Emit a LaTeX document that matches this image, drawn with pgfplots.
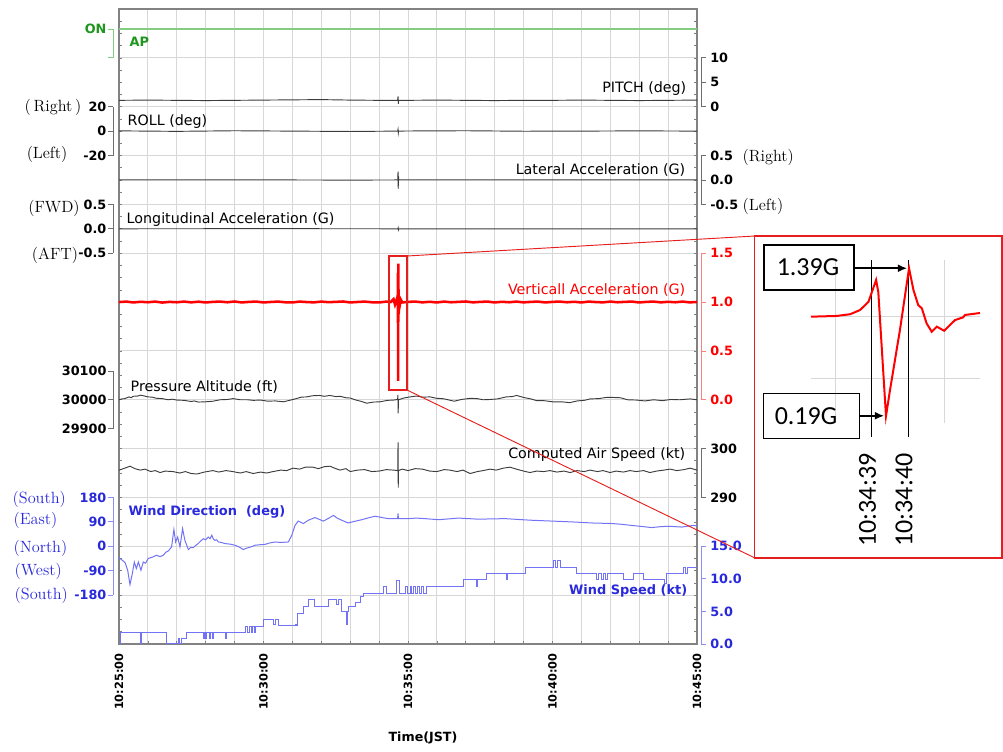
\documentclass[border=0pt]{standalone}
\usepackage{pgfplots}
\pgfplotsset{compat=1.18}
\usepackage{fontspec}
\usetikzlibrary{arrows.meta}
\newfontfamily\dv{DejaVu Sans}
\newfontfamily\carl{Carlito}
\newcommand\lab{\dv\fontsize{10.7}{12}\selectfont}
\newcommand\blab{\dv\bfseries\fontsize{9.7}{11}\selectfont}
\newcommand\tlab{\dv\bfseries\fontsize{9.6}{11}\selectfont}
\newcommand\xtl{\dv\bfseries\fontsize{8.5}{10}\selectfont}
\newcommand\ser{\rmfamily\fontsize{12.2}{13}\selectfont}
\newcommand\clb{\carl\fontsize{19.5}{21}\selectfont}
\definecolor{apg}{RGB}{30,150,30}
\definecolor{apline}{RGB}{130,205,130}
\definecolor{vred}{RGB}{255,0,0}
\definecolor{vbr}{RGB}{255,125,125}
\definecolor{wb}{RGB}{40,40,220}
\definecolor{wline}{RGB}{115,115,245}
\definecolor{wbr}{RGB}{140,140,250}
\definecolor{dk}{RGB}{60,60,60}
\definecolor{gridc}{RGB}{215,215,215}
\definecolor{framec}{RGB}{130,130,130}
\definecolor{brc}{RGB}{110,110,110}
\definecolor{boxred}{RGB}{230,30,30}
\pgfplotsset{
 chan/.style={scale only axis, width=433.5pt, anchor=south west, xmin=0, xmax=20,
   axis x line=none, clip=false, tick align=outside, major tick length=3.75pt, no markers,
   scaled y ticks=false,
   yticklabel style={font=\tlab}, ytick style={line width=0.6pt}, y axis line style={line width=0.6pt}},
 lchan/.style={chan, axis y line*=left,
   y axis line style={xshift=-4.5pt}, ytick style={xshift=-4.5pt}, yticklabel style={xshift=-4.5pt, inner sep=1pt}},
 rchan/.style={chan, axis y line*=right,
   y axis line style={xshift=3pt}, ytick style={xshift=3pt}, yticklabel style={xshift=5pt, inner sep=1pt}},
 gbr/.style={y axis line style={draw=brc}, ytick style={draw=brc}},
}
\begin{document}
\begin{tikzpicture}[x=0.75pt,y=0.75pt]
\path[use as bounding box] (0,0) rectangle (1003,751);
% main frame
\begin{axis}[at={(89.25pt,80.25pt)}, anchor=south west, scale only axis,
 width=433.5pt, height=476.25pt, xmin=0, xmax=20, ymin=0, ymax=13,
 xtick={0,...,20},
 xticklabels={10:25:00,,,,,10:30:00,,,,,10:35:00,,,,,10:40:00,,,,,10:45:00},
 ytick={0,...,13}, yticklabels={,,,,,,,,,,,,,,}, minor y tick num=3,
 grid=major, major grid style={draw=gridc, line width=0.7pt},
 tick align=inside, xtick pos=left, ytick pos=both,
 major tick length=2.5pt, minor tick length=2pt,
 tick style={draw=framec, line width=0.5pt},
 axis line style={draw=framec, line width=1.1pt},
 xticklabel style={rotate=90, anchor=east, font=\xtl, inner sep=0pt},
 xticklabel shift=7pt]
\end{axis}
% AP
\begin{axis}[lchan, at={(89.25pt,519.87pt)}, height=21.63pt, ymin=0, ymax=1,
 ytick={0,1}, yticklabels={,ON}, yticklabel style={text=apg},
 y axis line style={draw=apline}, ytick style={draw=apline}]
\addplot[apline, line width=0.8pt] coordinates {(0,1)(20,1)};
\end{axis}
% PITCH
\begin{axis}[rchan, gbr, at={(89.25pt,483.235pt)}, height=36.635pt, ymin=0, ymax=10,
 ytick={0,5,10}, yticklabels={0,5,10}]
\addplot[dk, line width=0.7pt] coordinates {(0,1.3)(1,1.35)(2,1.3)(3,1.25)(4,1.3)(5,1.35)(6,1.4)(7,1.45)(8,1.35)(9,1.3)(9.64,1.3)(9.655,2.1)(9.665,0.6)(9.675,1.3)(10,1.3)(11,1.35)(12,1.3)(13,1.25)(14,1.3)(15,1.3)(16,1.35)(17,1.3)(18,1.25)(19,1.3)(20,1.35)};
\end{axis}
% ROLL
\begin{axis}[lchan, gbr, at={(89.25pt,446.6pt)}, height=36.635pt, ymin=-20, ymax=20,
 ytick={-20,0,20}, yticklabels={-20,0,20}]
\addplot[dk, line width=0.7pt] coordinates {(0,0.2)(2,-0.2)(4,0.3)(6,0)(8,-0.3)(9.64,0)(9.655,1.5)(9.665,-1.5)(9.675,0)(10,0.1)(12,0.3)(14,-0.1)(16,0)(18,0.2)(20,0)};
\end{axis}
% Lateral
\begin{axis}[rchan, gbr, at={(89.25pt,409.965pt)}, height=36.635pt, ymin=-0.5, ymax=0.5,
 ytick={-0.5,0,0.5}, yticklabels={-0.5,0.0,0.5}]
\addplot[dk, line width=0.7pt] coordinates {(0,0)(4,0.003)(8,-0.003)(9.645,0)(9.655,0.17)(9.662,-0.18)(9.67,0.08)(9.68,0)(14,0.003)(20,0)};
\end{axis}
% Longitudinal
\begin{axis}[lchan, gbr, at={(89.25pt,373.33pt)}, height=36.635pt, ymin=-0.5, ymax=0.5,
 ytick={-0.5,0,0.5}, yticklabels={-0.5,0.0,0.5}]
\addplot[dk, line width=0.7pt] coordinates {(0,0)(5,0.003)(9.65,0)(9.66,0.02)(9.67,-0.02)(9.68,0)(15,-0.003)(20,0)};
\end{axis}
% Vertical acceleration
\begin{axis}[rchan, at={(89.25pt,263.425pt)}, height=109.905pt, ymin=0, ymax=1.5,
 ytick={0,0.5,1,1.5}, yticklabels={0.0,0.5,1.0,1.5}, yticklabel style={text=vred},
 y axis line style={draw=vbr}, ytick style={draw=vbr}]
\addplot[vred, line width=1.9pt] coordinates {
(0,1.000)(0.25,1.005)(0.5,0.996)(0.75,1.003)(1,0.998)(1.25,1.005)(1.5,0.995)(1.75,1.002)
(2,0.998)(2.25,1.005)(2.5,0.997)(2.75,1.004)(3,0.996)(3.25,1.002)(3.5,1.005)(3.75,0.998)
(4,1.006)(4.25,0.996)(4.5,1.002)(4.75,1.005)(5,0.996)(5.25,1.001)(5.5,1.005)(5.75,0.998)
(6,0.996)(6.25,1.005)(6.5,1.000)(6.75,0.997)(7,1.005)(7.25,0.999)(7.5,1.002)(7.75,1.006)
(8,0.996)(8.25,1.001)(8.5,1.005)(8.75,0.998)(9,0.996)(9.25,1.005)(9.4,1.000)(9.5,1.030)
(9.55,0.975)(9.6,1.020)(9.6223,1.000)(9.634,1.006)(9.6402,1.020)(9.6447,1.054)(9.6485,1.120)
(9.652,1.300)(9.653,1.200)(9.6565,0.194)(9.6583,0.405)(9.6628,0.890)(9.667,1.393)(9.669,1.217)
(9.6712,1.095)(9.6728,1.068)(9.675,0.946)(9.6773,0.878)(9.6797,0.919)(9.683,0.886)(9.6857,0.933)
(9.688,0.973)(9.6917,0.995)(9.6993,1.030)(9.72,0.975)(9.75,1.025)(9.8,0.996)(10,1.002)
(10.25,1.005)(10.5,0.997)(10.75,1.003)(11,0.996)(11.25,1.005)(11.5,0.998)(11.75,1.002)
(12,1.006)(12.25,0.997)(12.5,1.002)(12.75,1.005)(13,0.996)(13.25,1.003)(13.5,0.998)(13.75,1.005)
(14,0.997)(14.25,1.002)(14.5,1.005)(14.75,0.996)(15,1.002)(15.25,1.005)(15.5,0.998)(15.75,1.003)
(16,0.996)(16.25,1.005)(16.5,1.000)(16.75,0.997)(17,1.005)(17.25,0.998)(17.5,1.002)(17.75,1.005)
(18,0.996)(18.25,1.002)(18.5,1.005)(18.75,0.997)(19,1.003)(19.25,0.998)(19.5,1.005)(19.75,0.997)(20,1.001)};
\end{axis}
% Pressure altitude
\begin{axis}[lchan, gbr, at={(89.25pt,241.825pt)}, height=43.2pt, ymin=29900, ymax=30100,
 ytick={29900,30000,30100}, yticklabels={29900,30000,30100}]
\addplot[dk, line width=0.7pt] coordinates {
(0,30000)(0.1,30003)(0.2,30004)(0.35,30010)(0.42,30007)(0.49,30012)(0.65,30013)(0.75,30016)(0.84,30014)
(1.0,30010)(1.15,30009)(1.3,30005)(1.5,30004)(1.7,30000)(1.85,30002)(2.0,29999)(2.25,29998)
(2.5,29994)(2.6,29996)(2.75,29992)(3.0,29993)(3.25,29995)(3.5,30000)(3.75,30001)(3.95,30004)
(4.2,30000)(4.45,30000)(4.65,29998)(4.9,29999)(5.15,29995)(5.4,29996)(5.69,29993)(5.9,29998)
(6.1,30003)(6.3,30009)(6.5,30010)(6.7,30014)(6.95,30015)(7.1,30012)(7.3,30015)(7.5,30011)
(7.65,30012)(7.85,30007)(8.0,30006)(8.2,29999)(8.4,29994)(8.57,29988)(8.8,29992)(9.03,29993)
(9.3,29998)(9.5,29999)(9.64,30001)(9.652,30017)(9.66,29953)(9.67,30000)(9.85,30006)(10.07,30010)
(10.3,30013)(10.5,30009)(10.76,30010)(11.0,30005)(11.2,30004)(11.34,30001)(11.6,29995)(11.85,30001)
(12.15,30005)(12.4,30004)(12.6,30000)(12.84,30001)(13.1,30003)(13.4,30010)(13.6,30011)(13.76,30015)
(14.0,30008)(14.25,30003)(14.45,29997)(14.7,29997)(15.0,29993)(15.3,29993)(15.6,29990)(15.85,29996)
(16.1,29998)(16.3,30003)(16.6,30004)(16.85,30008)(17.1,30008)(17.35,30007)(17.6,30000)(17.9,29999)
(18.2,29996)(18.5,30000)(18.8,29997)(19.1,30001)(19.4,30000)(19.76,30003)(20,30000)};
\end{axis}
% CAS
\begin{axis}[rchan, gbr, at={(89.25pt,190.155pt)}, height=36.635pt, ymin=290, ymax=300,
 ytick={290,300}, yticklabels={290,300}]
\addplot[dk, line width=0.7pt] coordinates {
(0,295.6)(0.2,296.0)(0.38,296.4)(0.55,295.9)(0.73,295.6)(0.9,295.8)(1.1,295.3)(1.25,295.5)(1.42,295.1)
(1.6,295.4)(1.87,295.3)(2.1,295.0)(2.3,295.3)(2.5,294.9)(2.7,294.8)(2.95,295.2)(3.25,295.5)
(3.45,295.2)(3.7,295.5)(3.94,295.3)(4.2,295.0)(4.4,295.3)(4.64,294.9)(4.9,295.2)(5.1,295.0)
(5.33,295.3)(5.6,295.6)(5.8,295.5)(6.02,296.0)(6.25,295.8)(6.45,296.2)(6.71,296.2)(6.9,295.9)
(7.1,296.3)(7.3,296.4)(7.5,295.9)(7.65,295.6)(7.85,295.9)(8.0,295.3)(8.25,295.6)(8.5,295.7)
(8.75,295.3)(9.0,295.4)(9.25,295.7)(9.5,295.6)(9.645,295.5)(9.655,301.3)(9.662,292.0)(9.67,295.5)
(9.8,295.8)(10.0,295.5)(10.25,295.9)(10.5,295.8)(10.75,295.4)(11.0,295.3)(11.25,295.7)(11.45,295.6)
(11.7,295.3)(11.9,295.6)(12.15,294.9)(12.4,295.3)(12.6,295.5)(12.84,295.8)(13.05,295.6)(13.3,296.0)
(13.53,296.2)(13.75,295.8)(14.0,295.4)(14.22,295.1)(14.45,295.4)(14.7,295.3)(14.91,295.5)(15.15,295.2)
(15.4,295.4)(15.61,295.1)(15.85,295.5)(16.1,295.3)(16.3,295.6)(16.55,295.3)(16.75,295.5)(16.99,295.1)
(17.2,295.4)(17.45,295.2)(17.68,295.5)(17.9,295.3)(18.15,295.5)(18.37,295.1)(18.6,295.4)(18.85,295.6)
(19.07,295.8)(19.3,295.5)(19.55,295.7)(19.76,296.0)(20,295.6)};
\end{axis}
% Wind direction
\begin{axis}[lchan, at={(89.25pt,116.885pt)}, height=73.27pt, ymin=-180, ymax=180,
 ytick={-180,-90,0,90,180}, yticklabels={-180,-90,0,90,180}, yticklabel style={text=wb},
 y axis line style={draw=wbr}, ytick style={draw=wbr}]
\addplot[wline, line width=0.75pt] coordinates {
(0,-40)(0.035,-45)(0.12,-52)(0.21,-60)(0.30,-88)(0.38,-141)(0.46,-101)(0.53,-58)(0.60,-82)(0.67,-58)
(0.76,-88)(0.84,-58)(0.92,-62)(1.01,-45)(1.15,-40)(1.30,-33)(1.42,-38)(1.53,-33)(1.62,-22)(1.71,-17)
(1.82,-2)(1.90,62)(1.96,16)(2.03,34)(2.11,-2)(2.20,65)(2.28,22)(2.34,5)(2.40,-12)(2.48,-4)(2.57,-5)
(2.65,3)(2.74,10)(2.83,20)(2.92,28)(3.00,24)(3.09,34)(3.15,28)(3.21,41)(3.27,26)(3.32,22)(3.38,24)
(3.44,16)(3.55,14)(3.67,10)(3.85,8)(4.01,4)(4.15,-2)(4.30,-12)(4.38,-8)(4.47,-5)(4.60,-1)(4.71,4)
(4.90,6)(5.05,7)(5.20,12)(5.40,16)(5.60,14)(5.86,16)(5.98,41)(6.09,77)(6.20,93)(6.30,88)(6.38,84)
(6.55,96)(6.78,106)(7.07,93)(7.25,103)(7.42,114)(7.55,104)(7.71,96)(7.93,86)(8.15,92)(8.40,98)
(8.60,104)(8.86,111)(9.10,106)(9.32,102)(9.64,102)(9.655,121)(9.67,102)(10.01,102)(10.30,104)
(10.59,102)(11.05,98)(11.40,101)(11.74,104)(12.10,102)(12.43,100)(12.90,101)(13.36,102)(13.80,99)
(14.28,96)(14.97,93)(15.66,90)(16.36,86)(17.05,84)(17.40,81)(17.74,77)(18.10,73)(18.43,69)(18.70,72)
(19.01,74)(19.47,71)(19.87,77)(20,75)};
\end{axis}
% Wind speed
\begin{axis}[rchan, at={(89.25pt,80.25pt)}, height=73.27pt, ymin=0, ymax=15,
 ytick={0,5,10,15}, yticklabels={0.0,5.0,10.0,15.0}, yticklabel style={text=wb},
 y axis line style={draw=wbr}, ytick style={draw=wbr}]
\addplot[wline, line width=0.75pt, const plot] coordinates {
(0,0.1)(0.035,1.8)(0.74,0.1)(0.78,1.8)(1.65,0.1)(2.05,0.9)(2.10,0.1)(2.17,0.9)(2.34,1.8)
(2.92,0.9)(2.95,1.8)(3.0,0.9)(3.04,1.8)(3.12,0.9)(3.16,1.8)(3.24,0.9)(3.28,1.8)(3.67,0.9)(3.72,1.8)
(4.36,2.7)(4.44,1.8)(4.50,2.7)(4.57,1.8)(4.62,2.7)(4.69,1.8)(4.74,2.7)(4.99,3.8)(5.34,3.0)(5.42,3.8)
(5.51,2.8)(6.09,3.0)(6.15,2.8)(6.18,4.7)(6.38,5.7)(6.55,6.8)(6.78,5.7)(7.24,6.8)(7.53,6.0)(7.60,6.8)
(7.71,5.0)(7.88,3.0)(7.91,5.0)(7.93,5.75)(8.17,6.3)(8.34,7.3)(8.45,7.8)(9.15,8.8)(9.26,7.8)(9.61,9.8)
(9.72,7.8)(9.90,8.8)(9.97,7.8)(10.07,8.8)(10.13,7.8)(10.20,8.8)(10.27,7.8)(10.34,8.8)(10.40,7.8)
(10.48,8.8)(10.55,7.8)(10.65,8.8)(11.91,9.9)(12.36,8.8)(12.41,9.9)(12.72,10.9)(13.40,9.9)(13.45,10.9)
(14.05,11.8)(15.05,12.8)(15.12,11.8)(15.18,12.8)(15.26,11.8)(15.84,10.9)(16.53,9.9)(16.60,10.9)
(16.68,9.9)(16.76,10.9)(16.85,9.9)(16.90,10.9)(17.45,9.9)(17.80,10.9)(18.14,9.9)(18.89,9.3)(18.93,9.9)
(18.95,10.9)(19.45,10.9)(19.53,11.8)(19.60,10.9)(19.66,11.8)(20,11.8)};
\end{axis}
% channel names
\node[anchor=west, text=apg, font=\blab] at (125,709.3) {AP};
\node[anchor=east, font=\lab] at (691,662.7) {PITCH (deg)};
\node[anchor=west, font=\lab] at (123,629.3) {ROLL (deg)};
\node[anchor=east, font=\lab] at (690,581) {Lateral Acceleration (G)};
\node[anchor=west, font=\lab] at (122,531.7) {Longitudinal Acceleration (G)};
\node[anchor=east, text=vred, font=\lab] at (690,461) {Verticall Acceleration (G)};
\node[anchor=west, font=\lab] at (126,364.3) {Pressure Altitude (ft)};
\node[anchor=east, font=\lab] at (690,296) {Computed Air Speed (kt)};
\node[anchor=west, text=wb, font=\blab] at (124,239.3) {Wind Direction\ \ (deg)};
\node[anchor=east, text=wb, font=\blab] at (692,160.3) {Wind Speed (kt)};
% direction notes
\node[anchor=east, font=\ser] at (86,643.5) {(\,Right\,)};
\node[font=\ser] at (47,597) {(Left)};
\node[font=\ser] at (54,543) {(FWD)};
\node[font=\ser] at (55,496) {(AFT)};
\node[anchor=west, font=\ser] at (738,594) {(Right)};
\node[anchor=west, font=\ser] at (738,545) {(Left)};
\node[anchor=west, text=wb, font=\ser] at (8,252) {(South)};
\node[anchor=west, text=wb, font=\ser] at (9,230.3) {(East)};
\node[anchor=west, text=wb, font=\ser] at (9,202.7) {(North)};
\node[anchor=west, text=wb, font=\ser] at (10,180) {(West)};
\node[anchor=west, text=wb, font=\ser] at (10,156) {(South)};
\node[font=\dv\bfseries\fontsize{9.5}{11}\selectfont] at (423,13) {Time(JST)};
% zoom marker and connectors
\draw[boxred, line width=1.1pt] (389,361) rectangle (407,495);
\draw[boxred, line width=0.7pt] (407,495) -- (755,515);
\draw[boxred, line width=0.7pt] (407,361) -- (755,193);
\draw[boxred, line width=1.1pt] (754.5,193) rectangle (1002,515);
% inset
\begin{axis}[at={(608.25pt,245.775pt)}, anchor=south west, scale only axis,
 width=126.75pt, height=122.475pt, xmin=37.34, xmax=41.96, ymin=0.135, ymax=1.46,
 xtick={38,39,40,41}, ytick={0.5,1.0}, xticklabels={,,,,}, yticklabels={,,},
 grid=major, major grid style={draw=gridc, line width=0.6pt},
 axis line style={draw=none}, tick style={draw=none}, clip=false]
\draw[black, line width=0.7pt] (axis cs:39,1.46) -- (axis cs:39,0.024);
\draw[black, line width=0.7pt] (axis cs:40,1.46) -- (axis cs:40,0.024);
\addplot[vred, line width=1.5pt, no markers] coordinates {
(37.34,1.000)(38.04,1.006)(38.41,1.020)(38.68,1.054)(38.91,1.120)(39.12,1.298)(39.18,1.200)
(39.39,0.194)(39.50,0.405)(39.77,0.890)(40.02,1.393)(40.14,1.217)(40.27,1.095)(40.37,1.068)
(40.50,0.946)(40.64,0.878)(40.78,0.919)(40.98,0.886)(41.14,0.933)(41.28,0.973)(41.50,0.995)
(41.55,1.014)(41.96,1.030)};
\draw[black, line width=1.4pt, -{Latex[length=7pt,width=6pt]}] (axis cs:38.52,1.393) -- (axis cs:39.97,1.393);
\draw[black, line width=1.4pt, -{Latex[length=7pt,width=6pt]}] (axis cs:38.66,0.196) -- (axis cs:39.34,0.196);
\end{axis}
\draw[black, line width=0.9pt] (764,461) rectangle (854,506);
\node[font=\clb] at (808,483.5) {1.39G};
\draw[black, line width=0.9pt] (763.3,312.7) rectangle (859.3,357.7);
\node[font=\clb] at (806,335.2) {0.19G};
\node[rotate=90, anchor=east, font=\clb, inner sep=0pt] at (867.5,297.7) {10:34:39};
\node[rotate=90, anchor=east, font=\clb, inner sep=0pt] at (904,297.7) {10:34:40};
\end{tikzpicture}
\end{document}
